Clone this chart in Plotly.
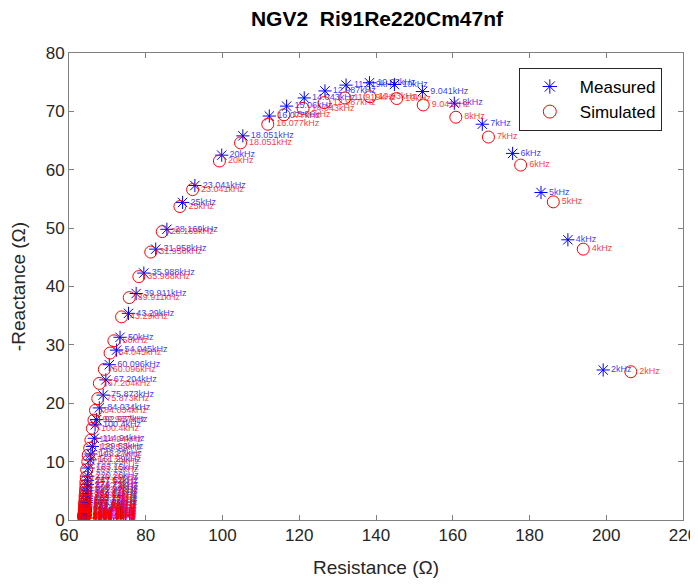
import plotly.graph_objects as go

freq_labels = ["2kHz", "4kHz", "5kHz", "6kHz", "7kHz", "8kHz", "9.041kHz", "10kHz",
               "10.93kHz", "11.919kHz", "12.987kHz", "14.043kHz", "15.06kHz", "16.077kHz",
               "18.051kHz", "20kHz", "23.041kHz", "25kHz", "28.169kHz", "31.958kHz",
               "35.988kHz", "39.911kHz", "43.29kHz", "50kHz", "54.045kHz", "60.096kHz",
               "67.204kHz", "75.873kHz", "84.034kHz", "92.937kHz", "100.4kHz", "114.94kHz",
               "129.53kHz", "143.27kHz", "161.29kHz", "183.15kHz", "220.26kHz", "247.52kHz",
               "274.73kHz", "308.64kHz", "342.47kHz", "384.62kHz", "429.18kHz", "480.77kHz",
               "537.63kHz", "602.41kHz", "675.68kHz", "757.58kHz", "847.46kHz", "952.38kHz",
               "1063.8kHz", "1190.5kHz", "1333.3kHz", "1492.5kHz", "1666.7kHz", "1886.8kHz",
               "2105.3kHz", "2380.9kHz", "2631.6kHz", "2941.2kHz", "3333.3kHz", "3703.7kHz",
               "4166.7kHz", "4882.8kHz"]

meas_R = [199.2, 190.0, 183.0, 175.6, 167.7, 160.4, 152.1, 144.8, 138.3, 132.2, 126.7, 121.3,
          116.7, 112.2, 105.3, 99.8, 92.8, 89.6, 85.5, 82.6, 79.5, 77.5, 75.5, 73.3, 72.4,
          70.5, 69.6, 68.9, 67.9, 67.2, 66.8, 66.6, 66.1, 65.7, 65.5, 65.0,
          64.9, 64.8, 64.8, 64.7, 64.7, 64.6, 64.6, 64.5, 64.5, 64.5, 64.4, 64.4, 64.4, 64.3,
          64.3, 64.3, 64.3, 64.2, 64.2, 64.2, 64.2, 64.2, 64.2, 64.1, 64.1, 64.1, 64.1, 64.2]
meas_X = [25.7, 48.0, 56.1, 62.8, 67.8, 71.4, 73.4, 74.6, 74.9, 74.5, 73.5, 72.3,
          70.9, 69.2, 65.8, 62.5, 57.3, 54.4, 49.8, 46.4, 42.3, 38.8, 35.4, 31.3, 29.1,
          26.6, 24.0, 21.4, 19.2, 17.2, 16.3, 14.0, 12.6, 11.3, 10.3, 8.9,
          7.5, 6.8, 6.1, 5.5, 5.0, 4.5, 4.1, 3.7, 3.3, 3.0, 2.7, 2.4, 2.2, 2.0,
          1.8, 1.6, 1.45, 1.3, 1.15, 1.0, 0.9, 0.8, 0.7, 0.62, 0.55, 0.48, 0.4, 0.3]

sim_R = [206.4, 194.0, 186.2, 177.7, 169.3, 160.8, 152.3, 145.4, 138.4, 131.9, 126.5, 121.0,
         116.0, 111.8, 104.7, 99.2, 92.2, 88.9, 84.3, 81.3, 78.2, 75.7, 73.7, 71.7, 70.7,
         69.2, 67.9, 67.5, 66.9, 66.5, 66.1, 65.7, 65.4, 65.0, 64.9, 64.6,
         64.5, 64.4, 64.4, 64.3, 64.3, 64.2, 64.2, 64.2, 64.1, 64.1, 64.1, 64.1, 64.0, 64.0,
         64.0, 64.0, 64.0, 64.0, 63.9, 63.9, 63.9, 63.9, 63.9, 63.9, 63.9, 63.9, 63.9, 63.9]
sim_X = [25.4, 46.4, 54.5, 60.8, 65.6, 69.0, 71.1, 72.2, 72.5, 72.3, 71.5, 70.5,
         69.4, 67.8, 64.6, 61.5, 56.6, 53.7, 49.4, 45.9, 41.7, 38.1, 34.8, 30.7, 28.6,
         25.8, 23.4, 20.8, 18.8, 17.1, 15.7, 13.7, 12.3, 11.1, 10.0, 8.6,
         7.3, 6.5, 5.9, 5.2, 4.7, 4.2, 3.8, 3.4, 3.0, 2.7, 2.4, 2.2, 1.9, 1.7,
         1.55, 1.4, 1.25, 1.1, 1.0, 0.9, 0.8, 0.7, 0.62, 0.55, 0.5, 0.44, 0.4, 0.33]

x_ticks = [60, 80, 100, 120, 140, 160, 180, 200, 220]
y_ticks = [0, 10, 20, 30, 40, 50, 60, 70, 80]

FONT = "Liberation Sans, Arial, Helvetica, sans-serif"
BLUE = "#0000ff"
RED = "#ff0000"
AXC = "#808080"

fig = go.Figure()

fig.add_trace(go.Scatter(
    x=meas_R, y=meas_X, mode="markers+text", text=freq_labels,
    textposition="middle right",
    textfont=dict(family=FONT, size=9, color="rgba(0,0,255,0.8)"),
    marker=dict(symbol="asterisk-open", size=11, color=BLUE, line=dict(color=BLUE, width=1)),
    showlegend=False, cliponaxis=True))
fig.add_trace(go.Scatter(
    x=sim_R, y=sim_X, mode="markers+text", text=freq_labels,
    textposition="middle right",
    textfont=dict(family=FONT, size=9, color="rgba(255,0,0,0.8)"),
    marker=dict(symbol="circle-open", size=12, color=RED, line=dict(color=RED, width=1)),
    showlegend=False, cliponaxis=True))

fig.add_trace(go.Scatter(
    x=[None], y=[None], mode="markers", name="Measured",
    marker=dict(symbol="asterisk-open", size=12, color=BLUE, line=dict(color=BLUE, width=1))))
fig.add_trace(go.Scatter(
    x=[None], y=[None], mode="markers", name="Simulated",
    marker=dict(symbol="circle-open", size=13, color=RED, line=dict(color=RED, width=1))))

axis_common = dict(
    showgrid=False, zeroline=False, showline=True, linecolor=AXC, linewidth=1,
    mirror="ticks", ticks="inside", ticklen=5, tickcolor=AXC, automargin=False,
    tickfont=dict(family=FONT, size=17, color="#262626"),
)

# The page has an 8px body margin, so the figure is sized to fit the window.
fig.update_layout(
    width=690, height=579,
    paper_bgcolor="white", plot_bgcolor="white",
    margin=dict(l=61, r=15, t=45, b=67),
    title=dict(text="<b>NGV2\u00a0 Ri91Re220Cm47nf</b>", x=369 / 690, xanchor="center",
               y=1 - 11 / 579, yanchor="middle",
               font=dict(family=FONT, size=21, color="#000000")),
    xaxis=dict(range=[60, 220], tickvals=x_ticks, ticktext=[str(v) for v in x_ticks],
               title=dict(text="Resistance (\u03a9)", font=dict(family=FONT, size=19, color="#262626"),
                          standoff=16),
               **axis_common),
    yaxis=dict(range=[0, 80], tickvals=y_ticks, ticktext=[str(v) for v in y_ticks],
               title=dict(text="-Reactance (\u03a9)", font=dict(family=FONT, size=19, color="#262626"),
                          standoff=22),
               **axis_common),
    legend=dict(x=0.9655, xanchor="right", y=0.968, yanchor="top",
                bgcolor="white", bordercolor="#262626", borderwidth=1,
                font=dict(family=FONT, size=17, color="#000000"),
                itemwidth=50, tracegroupgap=0),
    showlegend=True,
)

fig.write_html("out.html")
